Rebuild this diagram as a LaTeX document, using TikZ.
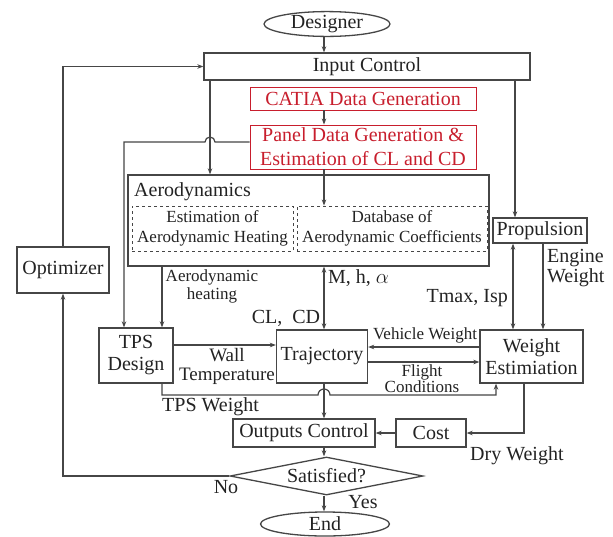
\documentclass[tikz,border=0pt]{standalone}
\usepackage{fontspec}
\setmainfont{Liberation Serif}
\usetikzlibrary{shapes.geometric,arrows.meta,calc}
\definecolor{ln}{RGB}{70,70,70}
\definecolor{txt}{RGB}{35,35,35}
\definecolor{rd}{RGB}{200,30,45}
\begin{document}
\begin{tikzpicture}[x=1pt,y=-1pt,
  font=\fontsize{20}{22}\selectfont,
  box/.style={draw=ln, line width=1.3pt, rectangle, inner sep=0pt, align=center, text=txt},
  rbox/.style={draw=rd, line width=0.9pt, rectangle, inner sep=0pt, align=center, text=rd},
  dbox/.style={draw=ln, dashed, line width=0.9pt, rectangle, inner sep=0pt, align=center, text=txt,
    font=\fontsize{17}{20}\selectfont},
  oval/.style={draw=ln, line width=1.3pt, ellipse, inner sep=0pt, text=txt},
  lbl/.style={inner sep=0pt, text=txt, align=center},
  slbl/.style={inner sep=0pt, text=txt, align=center, font=\fontsize{17}{18}\selectfont},
  arr/.style={draw=ln, line width=1.2pt, -{Stealth[length=6pt,width=4.5pt]}},
  arrb/.style={draw=ln, line width=1.2pt, {Stealth[length=6pt,width=4.5pt]}-{Stealth[length=6pt,width=4.5pt]}},
  ]
\useasboundingbox[fill=white] (0,0) rectangle (613,536);

% column coordinates
\coordinate (col) at (324,0);
\coordinate (xa) at (210,0);
\coordinate (xb) at (515,0);
\coordinate (xc) at (124,0);
\coordinate (xd) at (162,0);
\coordinate (xe) at (513,0);
\coordinate (xf) at (543,0);
\coordinate (xg) at (496,0);
\coordinate (xh) at (524,0);
\coordinate (yp) at (0,142);
\coordinate (yw) at (0,345);
\coordinate (yv) at (0,347);
\coordinate (yf) at (0,362);
\coordinate (yt) at (0,395);

% nodes
\node[oval, minimum width=126pt, minimum height=24pt] (designer) at (327,24) {Designer};
\node[box, minimum width=326pt, minimum height=27pt] (input) at (367,66.5) {Input Control};
\node[rbox, minimum width=226pt, minimum height=23pt] (catia) at (363,98.5) {CATIA Data Generation};
\node[rbox, minimum width=226pt, minimum height=44pt, font=\fontsize{20}{24}\selectfont] (panel) at (363,147) {Panel Data Generation \&\\Estimation of CL and CD};
\node[box, minimum width=361pt, minimum height=91pt] (aero) at (308.5,220.5) {};
\node[lbl, anchor=west] (aerot) at (134,192) {Aerodynamics};
\node[dbox, minimum width=161pt, minimum height=45pt] (heat) at (212.5,228.5) {Estimation of\\Aerodynamic Heating};
\node[dbox, minimum width=190pt, minimum height=45pt] (db) at (392,228.5) {Database of\\Aerodynamic Coefficients};
\node[box, minimum width=94pt, minimum height=25pt] (prop) at (540,230.5) {Propulsion};
\node[box, minimum width=92pt, minimum height=46pt] (opt) at (63,270) {Optimizer};
\node[box, minimum width=74pt, minimum height=55pt] (tps) at (136,355.5) {TPS\\Design};
\node[box, minimum width=91pt, minimum height=53pt] (traj) at (322,356.5) {Trajectory};
\node[box, minimum width=103pt, minimum height=53pt] (we) at (531.5,356.5) {Weight\\Estimiation};
\node[box, minimum width=142pt, minimum height=28pt] (out) at (304,433) {Outputs Control};
\node[box, minimum width=70pt, minimum height=28pt] (cost) at (431,433) {Cost};
\node[draw=ln, line width=1.3pt, diamond, aspect=5, inner sep=0pt, text=txt,
      minimum width=193pt, minimum height=38pt] (sat) at (326.5,476) {Satisfied?};
\node[oval, minimum width=129pt, minimum height=24pt] (end) at (325,524) {End};

% labels
\node[slbl] (lah) at (212,286) {Aerodynamic\\heating};
\node[lbl, anchor=west] (lmh) at (328,278) {M, h, $\alpha$};
\node[lbl] (lcl) at (286,318) {CL,\enspace CD};
\node[lbl, anchor=east] (ltm) at (508,298) {Tmax, Isp};
\node[lbl, anchor=west, align=left, font=\fontsize{20}{20}\selectfont] (lew) at (547,268) {Engine\\Weight};
\node[lbl, font=\fontsize{19}{19}\selectfont] (lwt) at (227,366) {Wall\\Temperature};
\node[slbl] (lvw) at (425,335) {Vehicle Weight};
\node[lbl, font=\fontsize{17}{16}\selectfont] (lfc) at (422,379) {Flight\\Conditions};
\node[lbl, anchor=west] (ltw) at (162,407) {TPS Weight};
\node[lbl, anchor=west] (ldw) at (470,456) {Dry Weight};
\node[lbl] (lno) at (226,487) {No};
\node[lbl] (lyes) at (363,502) {Yes};

% connectors
\draw[arr] (designer.south -| col) -- (input.north -| col);
\draw[arr] (input.south -| xa) -- (aero.north -| xa);
\draw[arr] (input.south -| xb) -- (prop.north -| xb);
\draw[arr] (catia.south -| col) -- (panel.north -| col);
\draw[arr] (panel.south -| col) -- (db.north -| col);
\draw[arr] (panel.west |- yp) -- ($(xa |- yp)+(5,0)$) arc[start angle=0, end angle=180, radius=5pt] -- (xc |- yp) -- (tps.north -| xc);
\draw[arr] (aero.south -| xd) -- (tps.north -| xd);
\draw[arrb] (aero.south -| col) -- (traj.north -| col);
\draw[arrb] (prop.south -| xe) -- (we.north -| xe);
\draw[arr] (prop.south -| xf) -- (we.north -| xf);
\draw[arr] (tps.east |- yw) -- (traj.west |- yw);
\draw[arr] (we.west |- yv) -- (traj.east |- yv);
\draw[arr] (traj.east |- yf) -- (we.west |- yf);
\draw[arr] (tps.south -| xd) -- (xd |- yt) -- ($(col |- yt)+(-6,0)$) arc[start angle=180, end angle=0, radius=6pt] -- (xg |- yt) -- (we.south -| xg);
\draw[arr] (traj.south -| col) -- (out.north -| col);
\draw[arr] (we.south -| xh) |- (cost.east);
\draw[arr] (cost.west) -- (out.east);
\draw[arr] (out.south -| col) -- (sat.north -| col);
\draw[arr] (sat.south -| col) -- (end.north -| col);
\draw[arr] (sat.west) -| (opt.south);
\draw[arr] (opt.north) |- (input.west);
\end{tikzpicture}
\end{document}
